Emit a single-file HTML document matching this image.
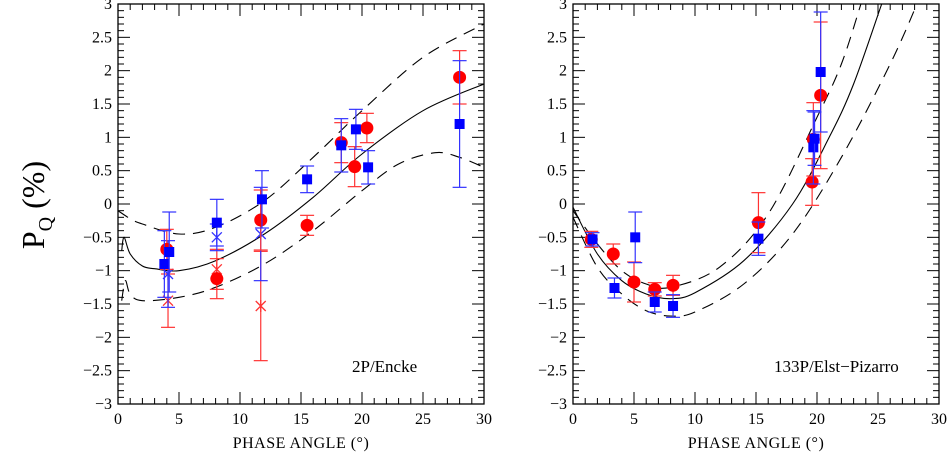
<!DOCTYPE html>
<html><head><meta charset="utf-8">
<style>
html,body{margin:0;padding:0;background:#fff;}
svg{display:block;font-family:"Liberation Serif",serif;}
</style></head>
<body>
<svg id="chart" width="951" height="458" viewBox="0 0 951 458">
<g id="g"></g>
</svg>
<script>
// ---- Left panel (2P/Encke) data ----
const encRedCircX=[4,8.1,11.7,15.5,18.3,19.4,20.4,28];
const encRedCircY=[-0.68,-1.12,-0.24,-0.32,0.92,0.56,1.14,1.9];
const encRedCircE=[0.3,0.3,0.45,0.15,0.3,0.3,0.22,0.4];
const encBlueSqX=[3.8,4.2,8.1,11.8,15.5,18.3,19.5,20.5,28];
const encBlueSqY=[-0.9,-0.72,-0.28,0.07,0.37,0.88,1.12,0.55,1.2];
const encBlueSqE=[0.5,0.6,0.35,0.43,0.2,0.4,0.3,0.25,0.95];
const encRedXX=[4.1,8.1,11.7];
const encRedXY=[-1.45,-0.98,-1.53];
const encRedXE=[0.4,0.3,0.82];
const encBlueXX=[4.1,8.1,11.7];
const encBlueXY=[-1.05,-0.5,-0.45];
const encBlueXE=[0.5,0.2,0.7];
const encCurveX=[0.3,0.5,1,2,3,5,8,12,16,20,25,30];
const encSolid=[-0.7,-0.5,-0.75,-0.93,-0.97,-1.0,-0.85,-0.45,0.1,0.75,1.4,1.8];
const encUpperX=[0,1,2,5,8,12,16,20,25,30];
const encUpper=[-0.1,-0.22,-0.3,-0.45,-0.35,0.05,0.7,1.4,2.2,2.7];
const encLowerX=[0.3,0.6,1,2,5,8,12,16,20,23,26,28,30];
const encLower=[-1.45,-1.15,-1.35,-1.45,-1.4,-1.25,-0.9,-0.4,0.2,0.6,0.77,0.7,0.55];
// ---- Right panel (133P) data ----
const epRedCircX=[1.5,3.3,5.0,6.7,8.2,15.2,19.6,19.7,20.3];
const epRedCircY=[-0.53,-0.75,-1.17,-1.28,-1.22,-0.28,0.33,0.97,1.63];
const epRedCircE=[0.12,0.15,0.3,0.1,0.15,0.45,0.35,0.55,1.1];
const epBlueSqX=[1.6,3.4,5.1,6.7,8.2,15.2,19.7,19.8,20.3];
const epBlueSqY=[-0.53,-1.26,-0.5,-1.47,-1.53,-0.52,0.85,0.98,1.98];
const epBlueSqE=[0.1,0.15,0.38,0.15,0.17,0.25,0.55,0.4,0.9];
const epCurveX=[0,2,4,6,8,10,14,18,21,23,25.3];
const epSolid=[-0.05,-0.75,-1.15,-1.35,-1.42,-1.33,-0.85,0.0,1.0,1.8,3.0];
const epUpperX=[0,2,4,6,8,12,16,20,22,23.6];
const epUpper=[-0.1,-0.6,-1.0,-1.2,-1.25,-0.95,-0.15,1.3,2.1,3.0];
const epLowerX=[0,2,4,6,8,10,14,18,22,26,28.2];
const epLower=[-0.2,-0.95,-1.35,-1.6,-1.68,-1.62,-1.2,-0.45,0.7,2.1,3.0];
const xTicks=[0,5,10,15,20,25,30];
const yTicks=[-3,-2.5,-2,-1.5,-1,-0.5,0,0.5,1,1.5,2,2.5,3];

const NS="http://www.w3.org/2000/svg";
const G=document.getElementById('g');
function mk(tag,attrs,parent){const e=document.createElementNS(NS,tag);for(const k in attrs)e.setAttribute(k,attrs[k]);(parent||G).appendChild(e);return e;}
const Y0=4,Y1=404;
function panel(x0,x1,name){
  const sx=v=>x0+(v)/30*(x1-x0);
  const sy=v=>Y0+(3-v)/6*(Y1-Y0);
  const g=mk('g',{});
  
  
  const clip='clip-'+name;
  const cp=mk('clipPath',{id:clip},g);mk('rect',{x:x0,y:Y0,width:x1-x0,height:Y1-Y0},cp);
  const fr=mk('rect',{x:x0,y:Y0,width:x1-x0,height:Y1-Y0,fill:'none',stroke:'#000','stroke-width':1.3},g);
  
  
  for(let i=0;i<=30;i++){const L=(i%5==0)?12:6;const x=sx(i);
    mk('line',{x1:x,y1:Y1,x2:x,y2:Y1-L,stroke:'#000'},g);mk('line',{x1:x,y1:Y0,x2:x,y2:Y0+L,stroke:'#000'},g);}
  for(let i=-30;i<=30;i++){const L=(i%5==0)?12:6;const y=sy(i/10);
    mk('line',{x1:x0,y1:y,x2:x0+L,y2:y,stroke:'#000'},g);mk('line',{x1:x1,y1:y,x2:x1-L,y2:y,stroke:'#000'},g);}
  xTicks.forEach(v=>{const t=mk('text',{x:sx(v),y:Y1+20,'text-anchor':'middle','font-size':16},g);t.textContent=v;
    });
  yTicks.forEach(v=>{const t=mk('text',{x:x0-6,y:sy(v)+5,'text-anchor':'end','font-size':16},g);t.textContent=(v<0?'\u2212':'')+Math.abs(v);
    });
  const xt=mk('text',{x:(x0+x1)/2,y:Y1+44,'text-anchor':'middle','font-size':16,'letter-spacing':'0.5'},g);
  xt.textContent='PHASE ANGLE (\u00b0)';
  
  return {sx,sy,g,clip};
}
function line(P,xs,ys,dash,name){
  const pts=xs.map((x,i)=>[P.sx(x),P.sy(ys[i])]);
  let d='M'+pts[0][0].toFixed(1)+','+pts[0][1].toFixed(1);
  for(let i=0;i<pts.length-1;i++){
    const p0=pts[Math.max(0,i-1)],p1=pts[i],p2=pts[i+1],p3=pts[Math.min(pts.length-1,i+2)];
    const c1=[p1[0]+(p2[0]-p0[0])/6,p1[1]+(p2[1]-p0[1])/6];
    const c2=[p2[0]-(p3[0]-p1[0])/6,p2[1]-(p3[1]-p1[1])/6];
    d+='C'+c1.map(v=>v.toFixed(1)).join(',')+' '+c2.map(v=>v.toFixed(1)).join(',')+' '+p2.map(v=>v.toFixed(1)).join(',');
  }
  const p=mk('path',{d,fill:'none',stroke:'#000','stroke-width':1.1,'stroke-dasharray':dash||'none','clip-path':'url(#'+P.clip+')'},P.g);
  
}
function ebar(P,x,y,e,col){
  const X=P.sx(x),a=P.sy(y+e),b=P.sy(y-e);
  mk('line',{x1:X,y1:a,x2:X,y2:b,stroke:col,'stroke-width':1.2},P.g);
  mk('line',{x1:X-7,y1:a,x2:X+7,y2:a,stroke:col,'stroke-width':1.2},P.g);
  mk('line',{x1:X-7,y1:b,x2:X+7,y2:b,stroke:col,'stroke-width':1.2},P.g);
}
function circles(P,xs,ys,es,name){xs.forEach((x,i)=>{ebar(P,x,ys[i],es[i],'#f33');
  const c=mk('circle',{cx:P.sx(x),cy:P.sy(ys[i]),r:6.5,fill:'#f00'},P.g);
  });}
function squares(P,xs,ys,es,name){xs.forEach((x,i)=>{ebar(P,x,ys[i],es[i],'#33f');
  const r=mk('rect',{x:P.sx(x)-5,y:P.sy(ys[i])-5,width:10,height:10,fill:'#00f'},P.g);
  });}
function crosses(P,xs,ys,es,col,name){xs.forEach((x,i)=>{ebar(P,x,ys[i],es[i],col);
  const X=P.sx(x),Y=P.sy(ys[i]);
  const p=mk('path',{d:`M${X-5},${Y-5}L${X+5},${Y+5}M${X-5},${Y+5}L${X+5},${Y-5}M${X},${Y-6}L${X},${Y+6}`,stroke:col,'stroke-width':1.3,fill:'none'},P.g);
  });}

const L=panel(118,484,'panel-2p-encke');
line(L,encCurveX,encSolid,null,'model-curve');
line(L,encUpperX,encUpper,'12,8','upper-bound-curve');
line(L,encLowerX,encLower,'12,8','lower-bound-curve');
crosses(L,encRedXX,encRedXY,encRedXE,'#f33','red-cross-point');
crosses(L,encBlueXX,encBlueXY,encBlueXE,'#33f','blue-cross-point');
circles(L,encRedCircX,encRedCircY,encRedCircE,'red-circle-point');
squares(L,encBlueSqX,encBlueSqY,encBlueSqE,'blue-square-point');
const lt=mk('text',{x:352,y:372,'font-size':17},L.g);lt.textContent='2P/Encke';


const R=panel(573,939,'panel-133p');
line(R,epCurveX,epSolid,null,'model-curve');
line(R,epUpperX,epUpper,'12,8','upper-bound-curve');
line(R,epLowerX,epLower,'12,8','lower-bound-curve');
circles(R,epRedCircX,epRedCircY,epRedCircE,'red-circle-point');
squares(R,epBlueSqX,epBlueSqY,epBlueSqE,'blue-square-point');
const rt=mk('text',{x:774,y:372,'font-size':17},R.g);rt.textContent='133P/Elst\u2212Pizarro';


const yt=mk('text',{x:0,y:0,'font-size':32,transform:'translate(44,205) rotate(-90)','text-anchor':'middle'});
yt.innerHTML='P<tspan font-size="20" dy="8">Q</tspan><tspan dy="-8"> (%)</tspan>';

</script>
</body></html>
